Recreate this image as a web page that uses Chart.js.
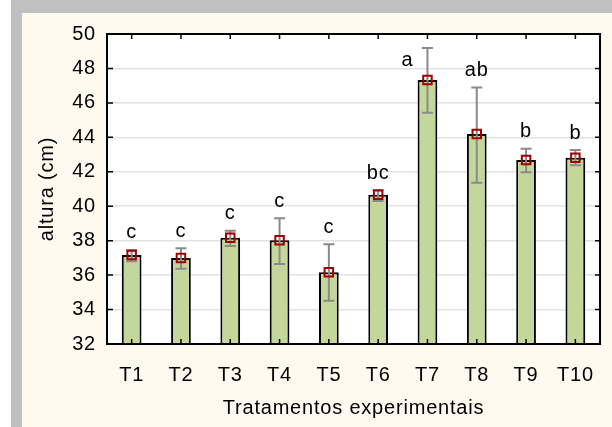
<!DOCTYPE html>
<html><head><meta charset="utf-8">
<script src="https://cdn.jsdelivr.net/npm/chart.js@4.4.1/dist/chart.umd.min.js"></script>
<style>html,body{margin:0;padding:0;background:#fff;}canvas{display:block;}</style>
</head><body>
<canvas id="c" width="612" height="427"></canvas>
<script>
const categories = ['T1','T2','T3','T4','T5','T6','T7','T8','T9','T10'];
const means   = [37.17, 37.0, 38.17, 38.02, 36.17, 40.67, 47.33, 44.2, 42.68, 42.82];
const errHigh = [37.46, 37.56, 38.58, 39.30, 37.79, 40.94, 49.19, 46.90, 43.34, 43.26];
const errLow  = [36.80, 36.37, 37.69, 36.64, 34.51, 40.30, 45.43, 41.37, 41.97, 42.38];
const groupLetters = ['c','c','c','c','c','bc','a','ab','b','b'];
const yMin = 32, yMax = 50, yStep = 2;
const xTitle = 'Tratamentos experimentais';
const yTitle = 'altura (cm)';

const FAMILY = '"Liberation Sans", Arial, sans-serif';
const FSIZE = 20;
Chart.defaults.font.family = FAMILY;
Chart.defaults.color = '#000';

const decor = {
  id: 'decor',
  beforeDraw(chart) {
    const ctx = chart.ctx, a = chart.chartArea;
    ctx.letterSpacing = '0.8px';
    ctx.save();
    ctx.fillStyle = '#ffffff'; ctx.fillRect(0, 0, chart.width, chart.height);
    ctx.fillStyle = '#c0c0c0'; ctx.fillRect(11, 0, chart.width - 11, chart.height);
    ctx.fillStyle = '#fffaf0'; ctx.fillRect(22, 13, chart.width - 22, chart.height - 13);
    ctx.fillStyle = '#ffffff'; ctx.fillRect(a.left, a.top, a.right - a.left, a.bottom - a.top);
    ctx.restore();
  },
  afterDatasetDraw(chart, args) {
    if (args.index !== 0) return;
    const ctx = chart.ctx, xs = chart.scales.x, ys = chart.scales.y;
    ctx.save();
    ctx.strokeStyle = '#8a8a8a'; ctx.lineWidth = 2;
    categories.forEach((c, i) => {
      const x = xs.getPixelForValue(i);
      const yh = ys.getPixelForValue(errHigh[i]);
      const yl = ys.getPixelForValue(errLow[i]);
      ctx.beginPath();
      ctx.moveTo(x, yh); ctx.lineTo(x, yl);
      ctx.moveTo(x - 5.5, yh); ctx.lineTo(x + 5.5, yh);
      ctx.moveTo(x - 5.5, yl); ctx.lineTo(x + 5.5, yl);
      ctx.stroke();
    });
    ctx.restore();
  },
  afterDraw(chart) {
    const ctx = chart.ctx, a = chart.chartArea, xs = chart.scales.x, ys = chart.scales.y;
    ctx.save();
    ctx.strokeStyle = '#000'; ctx.lineWidth = 2;
    ctx.strokeRect(a.left, a.top, a.right - a.left, a.bottom - a.top);
    ctx.lineWidth = 1.5;
    ctx.beginPath();
    categories.forEach((c, i) => {
      const x = xs.getPixelForValue(i);
      ctx.moveTo(x, a.top); ctx.lineTo(x, a.top + 5);
      ctx.moveTo(x, a.bottom); ctx.lineTo(x, a.bottom - 5);
    });
    ys.ticks.forEach(t => {
      const y = ys.getPixelForValue(t.value);
      ctx.moveTo(a.left, y); ctx.lineTo(a.left + 6, y);
      ctx.moveTo(a.right, y); ctx.lineTo(a.right - 5, y);
    });
    ctx.stroke();
    ctx.fillStyle = '#000';
    ctx.font = FSIZE + 'px ' + FAMILY;
    ctx.textAlign = 'center'; ctx.textBaseline = 'middle';
    categories.forEach((c, i) => {
      const x = xs.getPixelForValue(i);
      const yh = ys.getPixelForValue(errHigh[i]);
      let ty = yh - 17, tx = x;
      if (ty - 10 < a.top) { tx = x - 20; ty = yh + 13; }
      ctx.fillText(groupLetters[i], tx, ty);
    });
    ctx.restore();
  }
};

new Chart(document.getElementById('c'), {
  type: 'bar',
  data: {
    labels: categories,
    datasets: [
      {
        type: 'bar',
        data: means,
        base: yMin,
        backgroundColor: '#c4d79b',
        borderColor: '#000',
        borderWidth: 2,
        categoryPercentage: 1,
        barPercentage: 0.4,
        order: 2
      },
      {
        type: 'line',
        data: means,
        showLine: false,
        pointStyle: 'rect',
        pointRadius: 6,
        pointBorderWidth: 2,
        pointBorderColor: '#a00000',
        pointBackgroundColor: 'rgba(0,0,0,0)',
        order: 1
      }
    ]
  },
  options: {
    responsive: false,
    animation: false,
    devicePixelRatio: 1,
    layout: { padding: { left: 22, top: 34, right: 5, bottom: 0 } },
    plugins: { legend: { display: false }, tooltip: { enabled: false } },
    scales: {
      x: {
        type: 'category',
        offset: true,
        grid: { display: false, drawTicks: false },
        border: { display: false },
        ticks: { color: '#000', font: { size: FSIZE }, padding: 19, maxRotation: 0, autoSkip: false },
        title: { display: true, text: xTitle, color: '#000', font: { size: FSIZE }, padding: { top: 0, bottom: 7 } },
        afterFit(s) { s.height = 83; }
      },
      y: {
        min: yMin, max: yMax,
        ticks: { stepSize: yStep, color: '#000', font: { size: FSIZE }, padding: 11 },
        grid: { color: '#e2e2e2', lineWidth: 1.5, drawTicks: false },
        border: { display: false },
        title: { display: true, text: yTitle, color: '#000', font: { size: FSIZE }, padding: { top: 13, bottom: 0 } },
        afterFit(s) { s.width = 85; }
      }
    }
  },
  plugins: [decor]
});
</script>
</body></html>
